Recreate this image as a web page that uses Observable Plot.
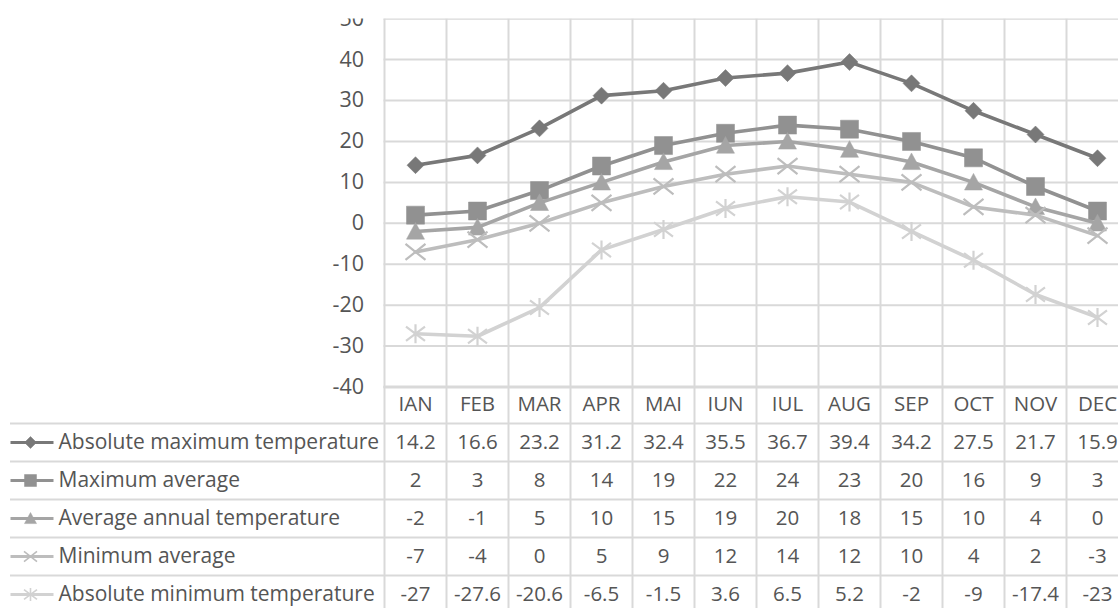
<!DOCTYPE html>
<html>
<head>
<meta charset="utf-8">
<script src="https://cdn.jsdelivr.net/npm/d3@7"></script>
<script src="https://cdn.jsdelivr.net/npm/@observablehq/plot@0.6"></script>
<style>
  html, body { margin: 0; padding: 0; background: #fff; overflow: hidden; }
  #wrap { position: relative; width: 1118px; height: 608px; }
  #wrap svg { position: absolute; left: 0; top: 0; }
</style>
</head>
<body>
<div id="wrap"></div>
<script>
const months = ["IAN","FEB","MAR","APR","MAI","IUN","IUL","AUG","SEP","OCT","NOV","DEC"];
const seriesNames = ["Absolute maximum temperature","Maximum average","Average annual temperature","Minimum average","Absolute minimum temperature"];
const absMax = [14.2,16.6,23.2,31.2,32.4,35.5,36.7,39.4,34.2,27.5,21.7,15.9];
const maxAvg = [2,3,8,14,19,22,24,23,20,16,9,3];
const avgAnnual = [-2,-1,5,10,15,19,20,18,15,10,4,0];
const minAvg = [-7,-4,0,5,9,12,14,12,10,4,2,-3];
const absMin = [-27,-27.6,-20.6,-6.5,-1.5,3.6,6.5,5.2,-2,-9,-17.4,-23];
const yTicks = [-40,-30,-20,-10,0,10,20,30,40,50];

const seriesValues = [absMax, maxAvg, avgAnnual, minAvg, absMin];
const colors = ["#787878","#919191","#a5a5a5","#bdbdbd","#d2d2d2"];
const grid = "#d9d9d9";
const textColor = "#555555";
const font = "Open Sans";

function sym(fn) { return { draw(ctx, size) { fn(ctx, Math.sqrt(size / Math.PI)); } }; }
const diamond = sym((c, h) => { c.moveTo(0, -h); c.lineTo(h, 0); c.lineTo(0, h); c.lineTo(-h, 0); c.closePath(); });
const square = sym((c, h) => { c.rect(-h, -h, 2 * h, 2 * h); });
const triangle = sym((c, h) => { c.moveTo(0, -h); c.lineTo(h, 0.85 * h); c.lineTo(-h, 0.85 * h); c.closePath(); });
const xMark = sym((c, h) => { c.moveTo(-h, -0.8 * h); c.lineTo(h, 0.8 * h); c.moveTo(-h, 0.8 * h); c.lineTo(h, -0.8 * h); });
const star = sym((c, h) => { c.moveTo(-h, -0.75 * h); c.lineTo(h, 0.75 * h); c.moveTo(-h, 0.75 * h); c.lineTo(h, -0.75 * h); c.moveTo(0, -h); c.lineTo(0, h); });
const hline = sym((c, h) => { c.moveTo(-h, 0); c.lineTo(h, 0); });

const symbols = [diamond, square, triangle, xMark, star];
const filled = [true, true, true, false, false];
const chartR = [8.5, 9, 9, 10, 9.5];
const legendR = [6, 6, 6, 6.5, 6.5];

const data = [];
seriesNames.forEach((s, i) => months.forEach((m, j) => data.push({series: s, idx: i, month: m, value: seriesValues[i][j]})));

const bandW = 744 / 12;

// ---------- chart ----------
const chartMarks = [
  Plot.ruleY(yTicks, {stroke: grid, strokeWidth: 2}),
  Plot.ruleY([-40], {stroke: grid, strokeWidth: 3}),
  Plot.ruleX(months, {x: d => d, dx: -bandW / 2, stroke: grid, strokeWidth: 2}),
  Plot.axisY(yTicks, {tickSize: 0, tickPadding: 20, fontSize: 21.5, tickFormat: d => String(d), fill: textColor, label: null})
];
seriesNames.forEach((s, i) => {
  const rows = data.filter(d => d.idx === i);
  chartMarks.push(Plot.line(rows, {x: "month", y: "value", stroke: colors[i], strokeWidth: 3.6}));
  chartMarks.push(Plot.dot(rows, {
    x: "month", y: "value", symbol: symbols[i], r: chartR[i],
    fill: filled[i] ? colors[i] : "none",
    stroke: colors[i], strokeWidth: filled[i] ? 0.5 : 2.2
  }));
});

const chart = Plot.plot({
  width: 1118, height: 608,
  marginTop: 18.5, marginLeft: 383.5, marginRight: 0, marginBottom: 0,
  x: {type: "band", domain: months, range: [383.5, 1127.5], padding: 0, axis: null},
  y: {domain: [-40, 50], range: [386.5, 18.2], axis: null, label: null},
  style: {fontFamily: font, fontSize: "21px", background: "white", color: textColor},
  marks: chartMarks
});
chart.style.clipPath = "inset(18.5px 0 0 0)";

// ---------- data table ----------
const rowKeys = ["header", ...seriesNames];
const tableMarks = [
  Plot.ruleY(seriesNames, {y: d => d, dy: -19, stroke: grid, strokeWidth: 2, insetLeft: 10}),
  Plot.text(months, {x: d => d, y: () => "header", text: d => d, fontSize: 20.5, fill: textColor}),
  Plot.text(data, {x: "month", y: "series", text: d => String(d.value), fontSize: 20.5, fill: textColor}),
  Plot.text(seriesNames, {y: d => d, frameAnchor: "left", dx: 58, textAnchor: "start", text: d => d, fontSize: 21, fill: textColor})
];
seriesNames.forEach((s, i) => {
  tableMarks.push(Plot.dot([s], {y: d => d, frameAnchor: "left", dx: 31.5, symbol: hline, r: 21.5, stroke: colors[i], strokeWidth: 3.2, fill: "none"}));
  tableMarks.push(Plot.dot([s], {
    y: d => d, frameAnchor: "left", dx: 30, symbol: symbols[i], r: legendR[i],
    fill: filled[i] ? colors[i] : "none", stroke: colors[i], strokeWidth: filled[i] ? 0.5 : 1.6
  }));
});

const table = Plot.plot({
  width: 1118, height: 608,
  marginTop: 386.5, marginLeft: 0, marginRight: 0, marginBottom: 0,
  x: {type: "band", domain: months, range: [383.5, 1127.5], padding: 0, axis: null},
  y: {type: "band", domain: rowKeys, range: [384.5, 612.5], padding: 0, axis: null},
  style: {fontFamily: font, fontSize: "21px", background: "transparent", color: textColor},
  marks: tableMarks
});

const wrap = document.getElementById("wrap");
wrap.appendChild(chart);
wrap.appendChild(table);
</script>
</body>
</html>
